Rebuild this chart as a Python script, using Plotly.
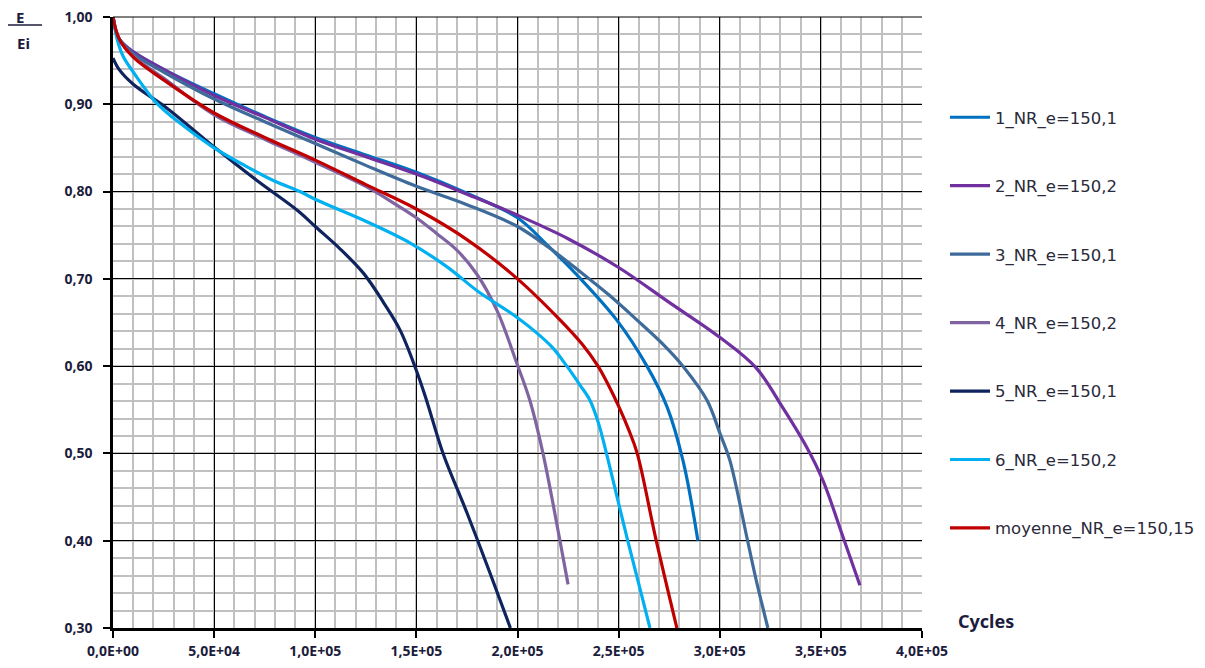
import plotly.graph_objects as go

# ---------------- data ----------------
names = ["1_NR_e=150,1", "2_NR_e=150,2", "3_NR_e=150,1", "4_NR_e=150,2",
         "5_NR_e=150,1", "6_NR_e=150,2", "moyenne_NR_e=150,15"]

x1 = [0, 3e3, 1e4, 2.5e4, 5e4, 7.5e4, 1e5, 1.25e5, 1.5e5, 1.75e5, 2e5, 2.15e5, 2.3e5,
      2.49e5, 2.64e5, 2.74e5, 2.82e5, 2.892e5]
y1 = [1.00, 0.975, 0.96, 0.94, 0.912, 0.886, 0.862, 0.842, 0.822, 0.798, 0.77, 0.738, 0.703,
      0.653, 0.60, 0.553, 0.49, 0.40]

x2 = [0, 3e3, 1e4, 2.5e4, 5e4, 7.5e4, 1e5, 1.25e5, 1.5e5, 1.75e5, 2e5, 2.25e5, 2.5e5, 2.75e5,
      3e5, 3.18e5, 3.31e5, 3.43e5, 3.51e5, 3.61e5, 3.693e5]
y2 = [1.00, 0.975, 0.96, 0.94, 0.91, 0.885, 0.86, 0.84, 0.82, 0.797, 0.773, 0.746, 0.713, 0.673,
      0.633, 0.598, 0.553, 0.507, 0.469, 0.404, 0.349]

x3 = [0, 3e3, 1e4, 2.5e4, 5e4, 7.5e4, 1e5, 1.25e5, 1.5e5, 1.75e5, 2e5, 2.16e5, 2.3e5, 2.45e5,
      2.59e5, 2.72e5, 2.818e5, 2.937e5, 3.001e5, 3.05e5, 3.134e5, 3.18e5, 3.238e5]
y3 = [1.00, 0.975, 0.958, 0.937, 0.906, 0.88, 0.855, 0.83, 0.806, 0.785, 0.76, 0.735, 0.71, 0.682,
      0.653, 0.625, 0.60, 0.561, 0.523, 0.492, 0.404, 0.355, 0.30]

x4 = [0, 3e3, 1e4, 2.5e4, 5e4, 7.5e4, 9.2e4, 1.25e5, 1.4e5, 1.5e5, 1.6e5, 1.7e5, 1.8e5, 1.9e5,
      1.997e5, 2.062e5, 2.126e5, 2.21e5, 2.25e5]
y4 = [1.00, 0.975, 0.955, 0.93, 0.888, 0.86, 0.842, 0.806, 0.785, 0.77, 0.752, 0.733, 0.705, 0.663,
      0.603, 0.56, 0.50, 0.40, 0.35]

x5 = [0, 3e3, 1e4, 2.7e4, 5e4, 7.1e4, 9.2e4, 1e5, 1.12e5, 1.24e5, 1.34e5, 1.42e5, 1.5e5,
      1.55e5, 1.632e5, 1.75e5, 1.864e5, 1.965e5]
y5 = [0.953, 0.94, 0.923, 0.895, 0.851, 0.813, 0.777, 0.76, 0.735, 0.706, 0.672, 0.641, 0.595,
      0.561, 0.50, 0.432, 0.363, 0.30]

x6 = [0, 2e3, 5e3, 1e4, 2.17e4, 3.5e4, 4.94e4, 6.5e4, 7.9e4, 9.24e4, 1.01e5, 1.25e5, 1.47e5, 1.65e5,
      1.814e5, 1.96e5, 2.08e5, 2.17e5, 2.244e5, 2.31e5, 2.358e5, 2.40e5, 2.44e5, 2.545e5, 2.655e5]
y6 = [1.00, 0.975, 0.955, 0.937, 0.901, 0.875, 0.851, 0.83, 0.813, 0.80, 0.79, 0.766, 0.741, 0.714,
      0.684, 0.662, 0.641, 0.622, 0.60, 0.578, 0.561, 0.535, 0.50, 0.40, 0.30]

xm = [0, 3e3, 1e4, 2.5e4, 5e4, 7.5e4, 1e5, 1.25e5, 1.5e5, 1.75e5, 2e5, 2.21e5, 2.32e5, 2.398e5,
      2.45e5, 2.502e5, 2.55e5, 2.592e5, 2.686e5, 2.788e5]
ym = [1.00, 0.975, 0.954, 0.928, 0.89, 0.862, 0.836, 0.808, 0.78, 0.745, 0.70, 0.653, 0.625, 0.60,
      0.578, 0.553, 0.527, 0.50, 0.40, 0.30]

x_tickvals = [0, 5e4, 1e5, 1.5e5, 2e5, 2.5e5, 3e5, 3.5e5, 4e5]
x_ticktext = ["0,0E+00", "5,0E+04", "1,0E+05", "1,5E+05", "2,0E+05", "2,5E+05",
              "3,0E+05", "3,5E+05", "4,0E+05"]
y_tickvals = [0.3, 0.4, 0.5, 0.6, 0.7, 0.8, 0.9, 1.0]
y_ticktext = ["0,30", "0,40", "0,50", "0,60", "0,70", "0,80", "0,90", "1,00"]

colors = ["#0070C0", "#7030A0", "#3F6B9B", "#8064A2", "#0F245E", "#00B0F0", "#C00000"]

series_x = [x1, x2, x3, x4, x5, x6, xm]
series_y = [y1, y2, y3, y4, y5, y6, ym]

# page has an 8px body margin: compensate so the plot lands at the reference pixels
OFF = 8
W, H = 1205 - 2 * OFF, 668 - 2 * OFF
PL, PR, PT, PB = 113, 922, 17, 628  # target plot-area pixels in the window
ml, mt = PL - OFF, PT - OFF
mr = W - (PR - OFF)
mb = H - (PB - OFF)
pw, ph = PR - PL, PB - PT


def px(xp):
    return (xp - PL) / pw


def py(yp):
    return 1 - (yp - PT) / ph


# ---------------- figure ----------------
fig = go.Figure()
for i, (xs, ys) in enumerate(zip(series_x, series_y)):
    fig.add_trace(go.Scatter(
        x=xs, y=ys, mode="lines", name=names[i], legendgroup=f"g{i}",
        line=dict(color=colors[i], width=3.2, shape="spline", smoothing=1.0),
    ))

ytick_font = dict(family="Noto Sans", size=14, color="#1c1c3c", weight="bold")
xtick_font = dict(family="Noto Sans", size=14, color="#1c1c3c", weight="bold")

fig.update_layout(
    width=W, height=H,
    margin=dict(l=ml, r=mr, t=mt, b=mb, autoexpand=False),
    plot_bgcolor="white", paper_bgcolor="white",
    showlegend=True,
    legend=dict(
        x=px(945), y=py(100), xanchor="left", yanchor="top",
        traceorder="grouped", tracegroupgap=44,
        font=dict(family="DejaVu Sans", size=16.5, color="#2a2a3a"),
        bgcolor="rgba(0,0,0,0)", itemwidth=40,
    ),
    xaxis=dict(
        range=[0, 4e5], tickvals=x_tickvals, ticktext=x_ticktext,
        showgrid=True, gridcolor="#000000", gridwidth=1,
        minor=dict(dtick=1e4, tick0=0, showgrid=True, gridcolor="#C0C0C0", gridwidth=1.6,
                   ticks=""),
        showline=True, linecolor="#000000", linewidth=2.5,
        ticks="outside", ticklen=7, tickwidth=2, tickcolor="#000000",
        tickfont=xtick_font, automargin=False, ticklabelstandoff=1,
        ticklabeloverflow="allow",
        zeroline=False,
    ),
    yaxis=dict(
        range=[0.3, 1.0], tickvals=y_tickvals, ticktext=y_ticktext,
        showgrid=True, gridcolor="#000000", gridwidth=1,
        minor=dict(dtick=0.02, tick0=0.3, showgrid=True, gridcolor="#C0C0C0", gridwidth=1.6,
                   ticks=""),
        showline=True, linecolor="#000000", linewidth=2.5,
        ticks="outside", ticklen=7, tickwidth=2, tickcolor="#000000",
        tickfont=ytick_font, automargin=False, ticklabelstandoff=8,
        ticklabeloverflow="allow",
        zeroline=False,
    ),
)

# thin top frame line (gridline at 1,00)
fig.add_shape(type="line", xref="paper", yref="paper", x0=0, x1=1, y0=1, y1=1,
              line=dict(color="#000000", width=1), layer="above")

title_font = dict(family="Noto Sans", size=15, color="#1c1c3c")
# y-axis title: E / Ei fraction at top-left
fig.add_annotation(xref="paper", yref="paper", x=px(20), y=py(17),
                   text="<b>E</b>", showarrow=False, xanchor="center", yanchor="middle",
                   font=title_font)
fig.add_annotation(xref="paper", yref="paper", x=px(23), y=py(43),
                   text="<b>Ei</b>", showarrow=False, xanchor="center", yanchor="middle",
                   font=title_font)
fig.add_shape(type="line", xref="paper", yref="paper",
              x0=px(6), x1=px(42), y0=py(25), y1=py(25),
              line=dict(color="#1c1c3c", width=1.5))
# x-axis title
fig.add_annotation(xref="paper", yref="paper", x=px(986), y=py(621),
                   text="<b>Cycles</b>", showarrow=False, xanchor="center", yanchor="middle",
                   font=dict(family="Noto Sans", size=18, color="#1c1c3c"))

fig.write_html("out.html")
